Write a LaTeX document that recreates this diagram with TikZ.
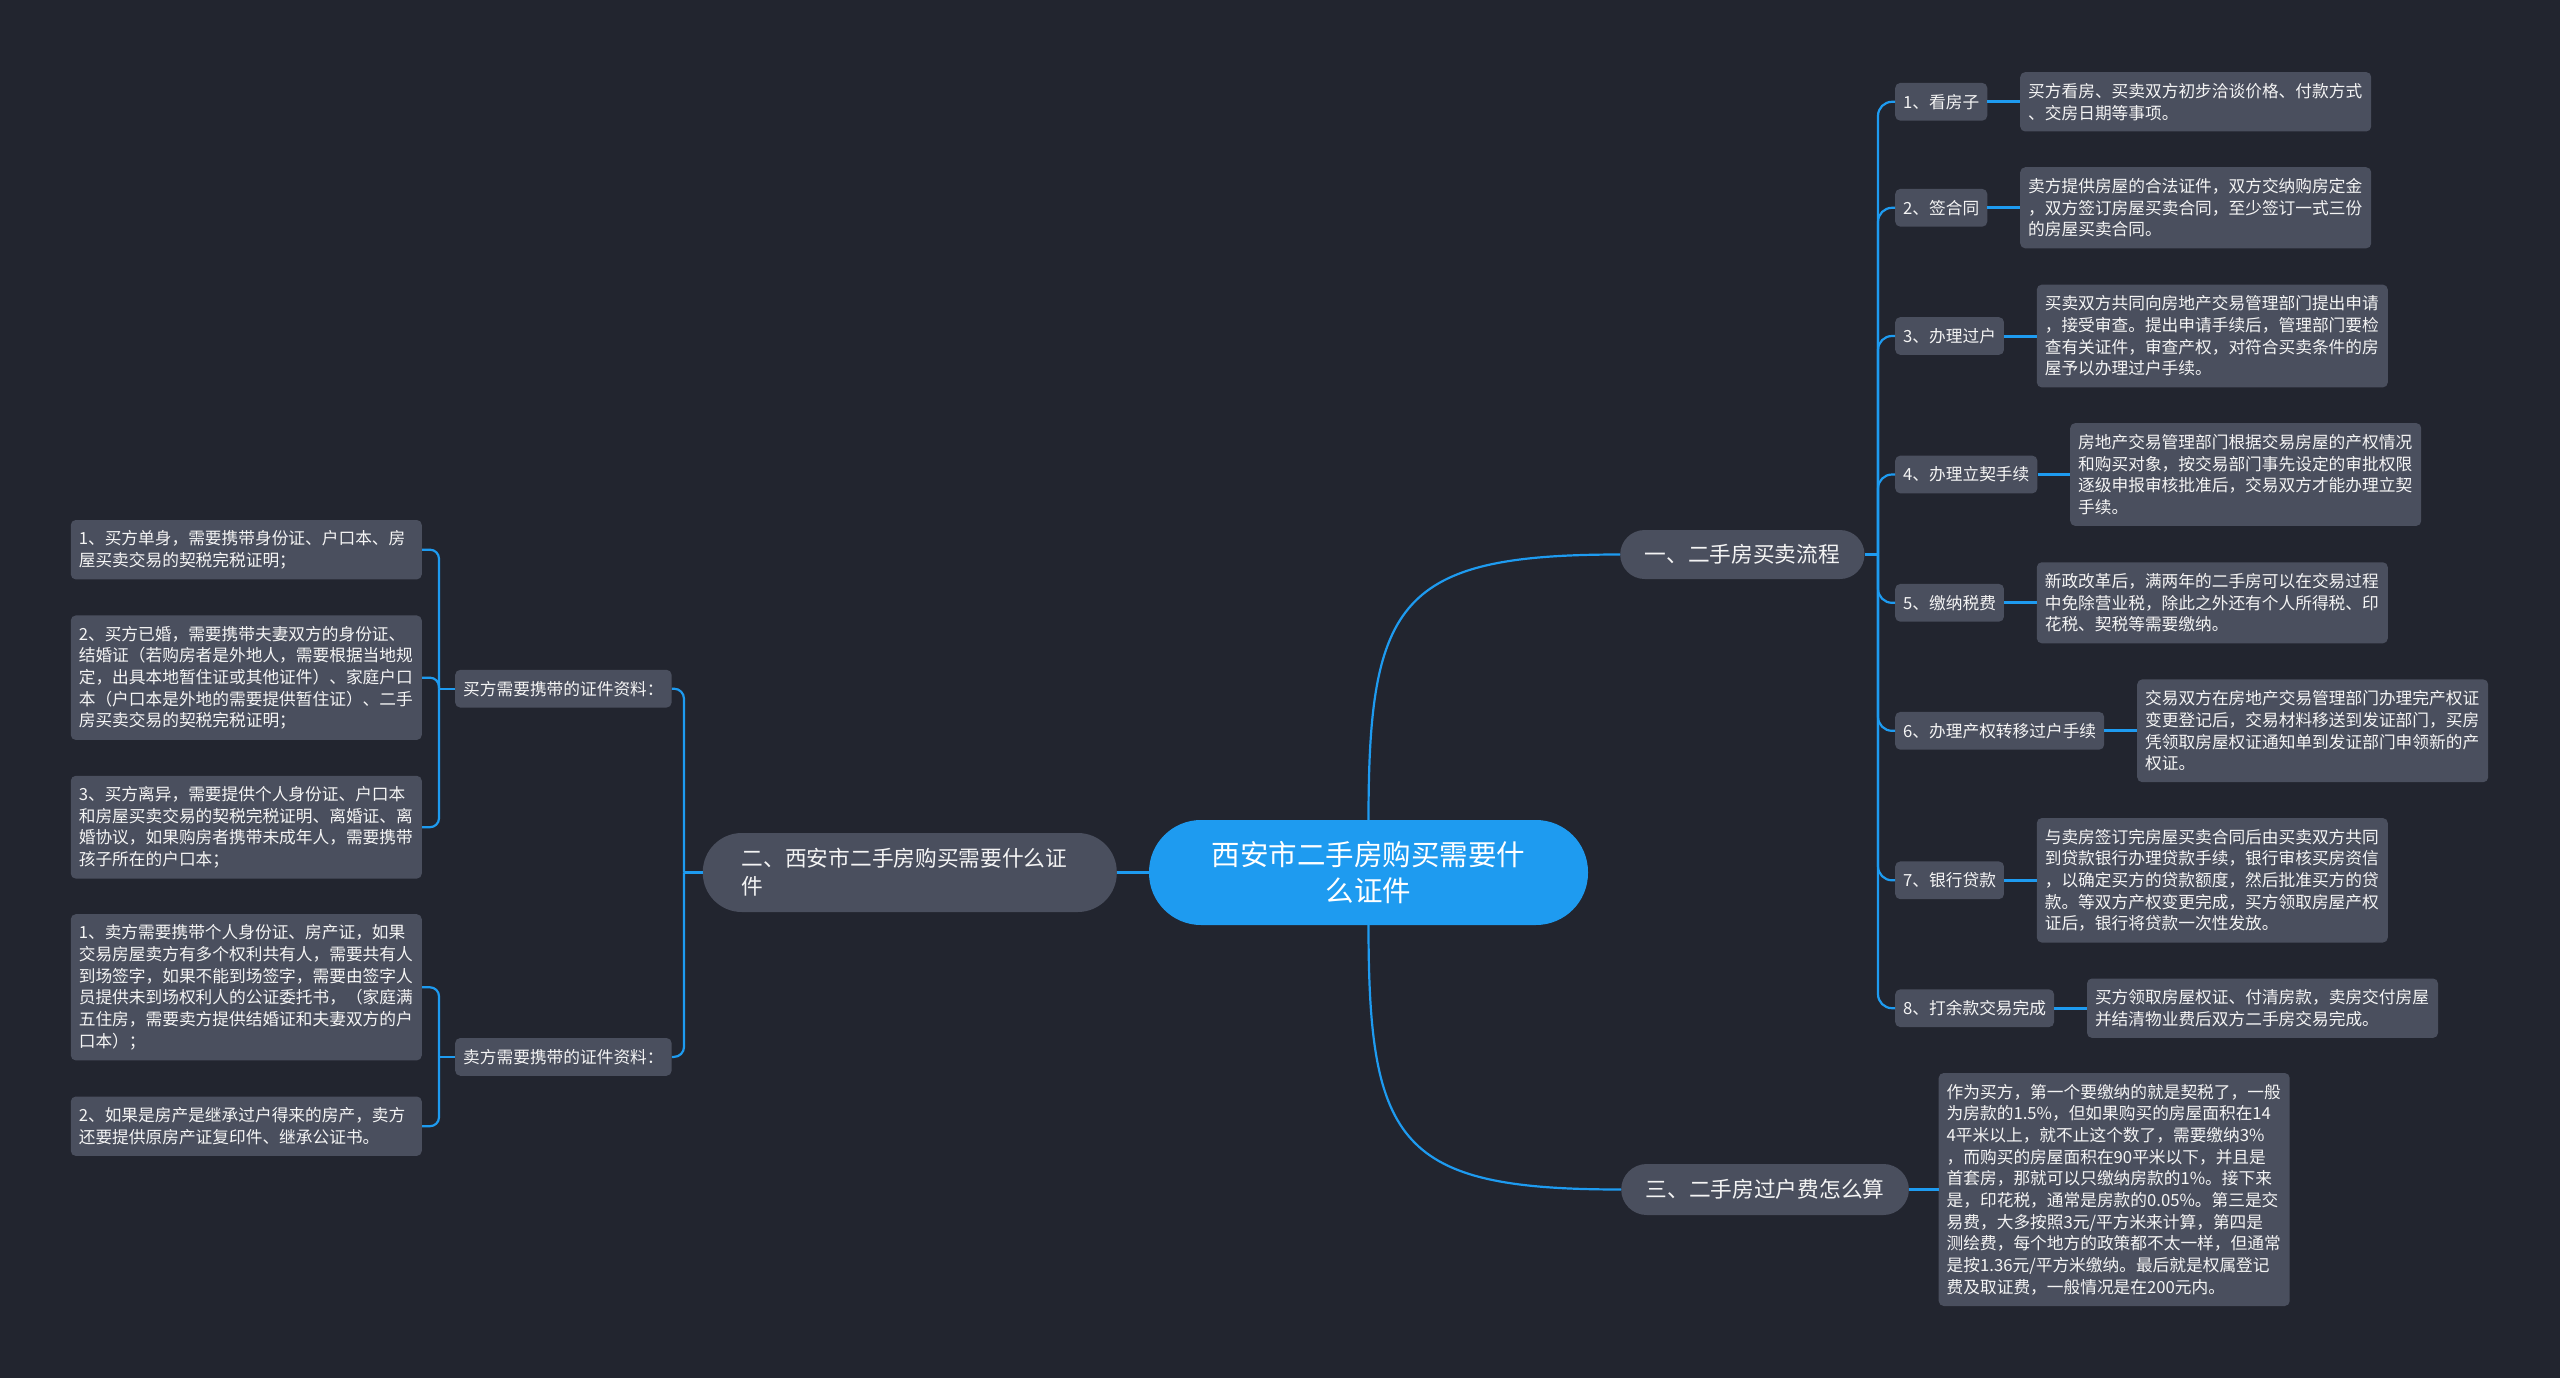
\documentclass[tikz,border=0pt]{standalone}
\usepackage{fontspec}
\setmainfont{Noto Sans CJK SC}
\definecolor{bg}{HTML}{22252F}
\definecolor{boxc}{HTML}{4A4F5E}
\definecolor{rootc}{HTML}{1E9BF0}
\definecolor{linec}{HTML}{1E9BF0}
\definecolor{txt}{HTML}{F4F4F4}
\begin{document}
\begin{tikzpicture}[x=1pt,y=-1pt,
  every node/.style={text=txt},
  leaf/.style={fill=boxc, rounded corners=5pt, inner xsep=8pt, inner ysep=0pt, align=left,
               font=\fontsize{16.7pt}{21.7pt}\selectfont},
  desc/.style={leaf, text width=335pt},
  nlines/.style={minimum height={#1*21.7pt+16pt}},
  branch/.style={fill=boxc, inner ysep=0pt, inner xsep=24.5pt, font=\fontsize{21.7pt}{28.3pt}\selectfont},
  rootbox/.style={fill=rootc, minimum width=439pt, minimum height=105pt, rounded corners=52pt,
                  align=center, inner sep=0pt, text=white, font=\fontsize{28.5pt}{36.7pt}\selectfont},
  conn/.style={draw=linec, line width=2.2pt},
  connb/.style={draw=linec, line width=3pt}
]
\fill[bg] (0,0) rectangle (2560,1378);
\useasboundingbox (0,0) rectangle (2560,1378);

% root and branches
\node[rootbox] (root) at (1368.5,872.5) {西安市二手房购买需要什\\么证件};
\node[branch, anchor=west, minimum height=49pt, rounded corners=24.5pt] (b1) at (1620,554.5) {一、二手房买卖流程};
\node[branch, anchor=west, minimum height=51pt, rounded corners=25.5pt] (b3) at (1621,1189.5) {三、二手房过户费怎么算};
\node[branch, anchor=east, minimum height=79pt, text width=336pt, align=left, inner xsep=39pt,
      rounded corners=39pt] (b2) at (1117,872.5) {二、西安市二手房购买需要什么证\\件};

% right items
\node[leaf, nlines=1, anchor=west] (i1) at (1895,101.8) {1、看房子};
\node[leaf, nlines=1, anchor=west] (i2) at (1895,207.8) {2、签合同};
\node[leaf, nlines=1, anchor=west] (i3) at (1895,336) {3、办理过户};
\node[leaf, nlines=1, anchor=west] (i4) at (1895,474.5) {4、办理立契手续};
\node[leaf, nlines=1, anchor=west] (i5) at (1895,602.8) {5、缴纳税费};
\node[leaf, nlines=1, anchor=west] (i6) at (1895,730.8) {6、办理产权转移过户手续};
\node[leaf, nlines=1, anchor=west] (i7) at (1895,880.3) {7、银行贷款};
\node[leaf, nlines=1, anchor=west] (i8) at (1895,1008.2) {8、打余款交易完成};

\node[desc, nlines=2, anchor=west] (d1) at (2020,101.8) {买方看房、买卖双方初步洽谈价格、付款方式\\、交房日期等事项。};
\node[desc, nlines=3, anchor=west] (d2) at (2020,207.8) {卖方提供房屋的合法证件，双方交纳购房定金\\，双方签订房屋买卖合同，至少签订一式三份\\的房屋买卖合同。};
\node[desc, nlines=4, anchor=west] (d3) at (2036.6,336) {买卖双方共同向房地产交易管理部门提出申请\\，接受审查。提出申请手续后，管理部门要检\\查有关证件，审查产权，对符合买卖条件的房\\屋予以办理过户手续。};
\node[desc, nlines=4, anchor=west] (d4) at (2070,474.5) {房地产交易管理部门根据交易房屋的产权情况\\和购买对象，按交易部门事先设定的审批权限\\逐级申报审核批准后，交易双方才能办理立契\\手续。};
\node[desc, nlines=3, anchor=west] (d5) at (2036.6,602.8) {新政改革后，满两年的二手房可以在交易过程\\中免除营业税，除此之外还有个人所得税、印\\花税、契税等需要缴纳。};
\node[desc, nlines=4, anchor=west] (d6) at (2137,730.8) {交易双方在房地产交易管理部门办理完产权证\\变更登记后，交易材料移送到发证部门，买房\\凭领取房屋权证通知单到发证部门申领新的产\\权证。};
\node[desc, nlines=5, anchor=west] (d7) at (2036.6,880.3) {与卖房签订完房屋买卖合同后由买卖双方共同\\到贷款银行办理贷款手续，银行审核买房资信\\，以确定买方的贷款额度，然后批准买方的贷\\款。等双方产权变更完成，买方领取房屋产权\\证后，银行将贷款一次性发放。};
\node[desc, nlines=2, anchor=west] (d8) at (2086.8,1008.2) {买方领取房屋权证、付清房款，卖房交付房屋\\并结清物业费后双方二手房交易完成。};
\node[desc, nlines=10, anchor=west] (d9) at (1938.5,1189.5) {作为买方，第一个要缴纳的就是契税了，一般\\为房款的1.5\%，但如果购买的房屋面积在14\\4平米以上，就不止这个数了，需要缴纳3\%\\，而购买的房屋面积在90平米以下，并且是\\首套房，那就可以只缴纳房款的1\%。接下来\\是，印花税，通常是房款的0.05\%。第三是交\\易费，大多按照3元/平方米来计算，第四是\\测绘费，每个地方的政策都不太一样，但通常\\是按1.36元/平方米缴纳。最后就是权属登记\\费及取证费，一般情况是在200元内。};

% left side
\node[leaf, nlines=1, anchor=west] (buy) at (455,688.7) {买方需要携带的证件资料：};
\node[leaf, nlines=1, anchor=west] (sell) at (455,1056.9) {卖方需要携带的证件资料：};

\node[desc, nlines=2, anchor=east] (l1) at (422,549.7) {1、买方单身，需要携带身份证、户口本、房\\屋买卖交易的契税完税证明；};
\node[desc, nlines=5, anchor=east] (l2) at (422,677.7) {2、买方已婚，需要携带夫妻双方的身份证、\\结婚证（若购房者是外地人，需要根据当地规\\定，出具本地暂住证或其他证件）、家庭户口\\本（户口本是外地的需要提供暂住证）、二手\\房买卖交易的契税完税证明；};
\node[desc, nlines=4, anchor=east] (l3) at (422,827.2) {3、买方离异，需要提供个人身份证、户口本\\和房屋买卖交易的契税完税证明、离婚证、离\\婚协议，如果购房者携带未成年人，需要携带\\孩子所在的户口本；};
\node[desc, nlines=6, anchor=east] (s1) at (422,987.3) {1、卖方需要携带个人身份证、房产证，如果\\交易房屋卖方有多个权利共有人，需要共有人\\到场签字，如果不能到场签字，需要由签字人\\员提供未到场权利人的公证委托书，（家庭满\\五住房，需要卖方提供结婚证和夫妻双方的户\\口本）；};
\node[desc, nlines=2, anchor=east] (s2) at (422,1126.2) {2、如果是房产是继承过户得来的房产，卖方\\还要提供原房产证复印件、继承公证书。};

% connectors: root
\draw[conn] (root.north) .. controls (1368.5,600) and (1400,554.5) .. (b1.west);
\draw[conn] (root.south) .. controls (1368.5,1145) and (1400,1189.5) .. (b3.west);
\draw[conn] (root.west) -- (b2.east);
\draw[connb] (b3.east) -- (d9.west);

% connectors: right
\coordinate (rs) at (1878,554.5);
\draw[conn] (b1.east) -- (rs);
\foreach \k in {1,...,8} {
  \draw[conn, rounded corners=14pt] (rs) |- (i\k.west);
  \draw[connb] (i\k.east) -- (d\k.west);
}

% connectors: left
\coordinate (ls) at (684,872.5);
\draw[conn] (b2.west) -- (ls);
\draw[conn, rounded corners=10pt] (ls) |- (buy.east);
\draw[conn, rounded corners=10pt] (ls) |- (sell.east);
\coordinate (bs) at (439,688.7);
\draw[conn] (buy.west) -- (bs);
\foreach \n in {l1,l2,l3} \draw[conn, rounded corners=9pt] (bs) |- (\n.east);
\coordinate (ss) at (439,1056.9);
\draw[conn] (sell.west) -- (ss);
\foreach \n in {s1,s2} \draw[conn, rounded corners=9pt] (ss) |- (\n.east);
\end{tikzpicture}
\end{document}
